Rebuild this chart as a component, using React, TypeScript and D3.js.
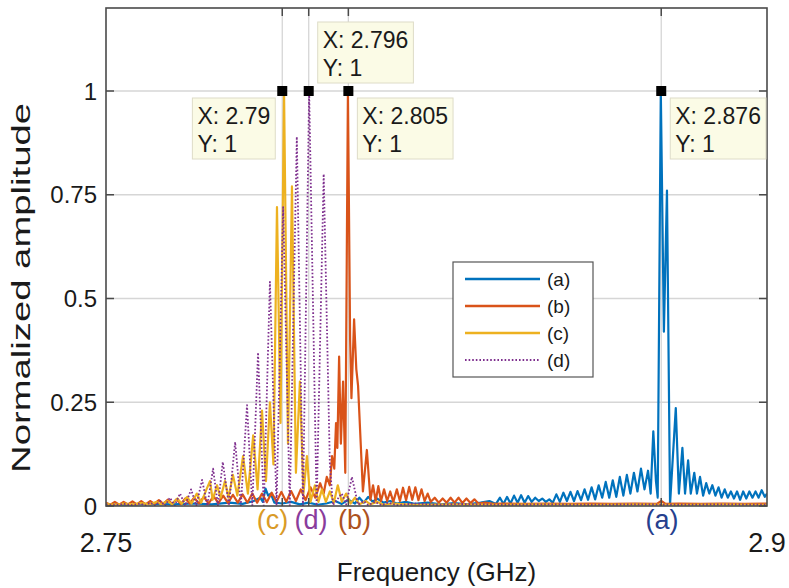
import React, { useEffect, useRef } from "react";
import * as d3 from "d3";

// frequency (GHz) / normalized amplitude pairs
const seriesA: [number, number][] = [
  [2.75, 0.004], [2.755, 0.003], [2.76, 0.005], [2.765, 0.004], [2.77, 0.006], [2.774, 0.004],
  [2.778, 0.008], [2.781, 0.005], [2.7835, 0.012], [2.785, 0.02], [2.7856, 0.01], [2.7862, 0.042],
  [2.7868, 0.025], [2.7874, 0.03], [2.7882, 0.008], [2.79, 0.006], [2.792, 0.01], [2.794, 0.004],
  [2.796, 0.008], [2.798, 0.003], [2.8, 0.006], [2.802, 0.012], [2.8035, 0.005], [2.805, 0.015],
  [2.8065, 0.006], [2.8075, 0.02], [2.8085, 0.008], [2.8095, 0.022], [2.8105, 0.01], [2.8115, 0.018],
  [2.813, 0.008], [2.8145, 0.012], [2.816, 0.006], [2.818, 0.01], [2.82, 0.005], [2.823, 0.008],
  [2.826, 0.004], [2.829, 0.007], [2.832, 0.004], [2.835, 0.008], [2.837, 0.012], [2.8385, 0.005],
  [2.8394, 0.02], [2.8402, 0.005], [2.841, 0.022], [2.8418, 0.006], [2.8426, 0.025], [2.8434, 0.008],
  [2.8442, 0.026], [2.845, 0.008], [2.8458, 0.024], [2.8466, 0.01], [2.8474, 0.02], [2.8482, 0.012],
  [2.849, 0.018], [2.8498, 0.01], [2.8506, 0.016], [2.8514, 0.008], [2.8522, 0.028], [2.853, 0.01],
  [2.8538, 0.032], [2.8546, 0.012], [2.8554, 0.034], [2.8562, 0.012], [2.857, 0.036], [2.8578, 0.014],
  [2.8586, 0.04], [2.8594, 0.015], [2.8602, 0.045], [2.861, 0.016], [2.8618, 0.05], [2.8626, 0.02],
  [2.8634, 0.058], [2.8642, 0.02], [2.865, 0.062], [2.8658, 0.022], [2.8666, 0.07], [2.8674, 0.025],
  [2.8682, 0.075], [2.869, 0.03], [2.8698, 0.08], [2.8706, 0.035], [2.8714, 0.09], [2.8722, 0.04],
  [2.873, 0.085], [2.8736, 0.03], [2.8742, 0.18], [2.8748, 0.06], [2.8752, 0.02], [2.8759, 1.0],
  [2.8766, 0.42], [2.8773, 0.76], [2.878, 0.005], [2.8793, 0.236], [2.88, 0.03], [2.8808, 0.14],
  [2.8814, 0.03], [2.8821, 0.11], [2.8827, 0.03], [2.8835, 0.08], [2.8841, 0.03], [2.8848, 0.07],
  [2.8855, 0.025], [2.8862, 0.055], [2.8869, 0.03], [2.8876, 0.05], [2.8883, 0.025], [2.889, 0.045],
  [2.8897, 0.02], [2.8904, 0.04], [2.8911, 0.02], [2.8918, 0.035], [2.8925, 0.018], [2.8932, 0.035],
  [2.8939, 0.015], [2.8946, 0.035], [2.8953, 0.018], [2.896, 0.035], [2.8967, 0.02], [2.8974, 0.035],
  [2.8981, 0.02], [2.8988, 0.038], [2.8995, 0.022], [2.9, 0.03],
];

const seriesB: [number, number][] = [
  [2.75, 0.008], [2.751, 0.003], [2.752, 0.01], [2.753, 0.003], [2.754, 0.01], [2.755, 0.004],
  [2.756, 0.011], [2.757, 0.004], [2.758, 0.012], [2.759, 0.004], [2.76, 0.012], [2.761, 0.005],
  [2.762, 0.014], [2.763, 0.005], [2.764, 0.015], [2.765, 0.005], [2.766, 0.016], [2.767, 0.005],
  [2.768, 0.018], [2.769, 0.006], [2.77, 0.02], [2.7711, 0.006], [2.7722, 0.022], [2.7733, 0.006],
  [2.7744, 0.024], [2.7755, 0.007], [2.7766, 0.025], [2.7777, 0.007], [2.7788, 0.027], [2.7799, 0.008],
  [2.781, 0.028], [2.7821, 0.008], [2.7832, 0.03], [2.7843, 0.008], [2.7854, 0.03], [2.7865, 0.009],
  [2.7876, 0.032], [2.7887, 0.01], [2.7898, 0.034], [2.7909, 0.01], [2.792, 0.036], [2.7931, 0.012],
  [2.7942, 0.04], [2.7953, 0.014], [2.7964, 0.045], [2.7975, 0.02], [2.7986, 0.055], [2.7994, 0.03],
  [2.8001, 0.07], [2.8008, 0.05], [2.8013, 0.12], [2.8018, 0.09], [2.8022, 0.2], [2.8025, 0.14],
  [2.8029, 0.36], [2.8033, 0.15], [2.8038, 0.3], [2.8043, 0.08], [2.8049, 1.0], [2.8054, 0.4],
  [2.8057, 0.26], [2.8063, 0.45], [2.8068, 0.33], [2.8072, 0.29], [2.8083, 0.035], [2.8092, 0.135],
  [2.81, 0.015], [2.8106, 0.05], [2.8112, 0.012], [2.8118, 0.048], [2.8124, 0.012], [2.8131, 0.04],
  [2.8138, 0.012], [2.8145, 0.035], [2.8152, 0.01], [2.816, 0.04], [2.8167, 0.012], [2.8174, 0.044],
  [2.8181, 0.014], [2.8188, 0.046], [2.8195, 0.015], [2.8202, 0.045], [2.8209, 0.014], [2.8216, 0.04],
  [2.8223, 0.012], [2.823, 0.03], [2.8237, 0.01], [2.8246, 0.02], [2.8255, 0.008], [2.8264, 0.018],
  [2.8273, 0.008], [2.8282, 0.02], [2.8291, 0.008], [2.83, 0.02], [2.8309, 0.007], [2.8318, 0.018],
  [2.8327, 0.007], [2.8336, 0.016], [2.8345, 0.006], [2.836, 0.008], [2.838, 0.005], [2.84, 0.006],
  [2.845, 0.005], [2.85, 0.006], [2.855, 0.005], [2.86, 0.006], [2.865, 0.005], [2.87, 0.006],
  [2.875, 0.005], [2.876, 0.012], [2.877, 0.005], [2.88, 0.006], [2.885, 0.005], [2.89, 0.006],
  [2.895, 0.005], [2.9, 0.006],
];

const seriesC: [number, number][] = [
  [2.75, 0.005], [2.752, 0.003], [2.754, 0.006], [2.756, 0.004], [2.758, 0.007], [2.76, 0.004],
  [2.7615, 0.01], [2.7625, 0.004], [2.764, 0.012], [2.765, 0.004], [2.7662, 0.018], [2.7672, 0.005],
  [2.7684, 0.022], [2.7694, 0.006], [2.7706, 0.03], [2.7716, 0.008], [2.7728, 0.04], [2.7736, 0.06],
  [2.7742, 0.015], [2.7752, 0.05], [2.776, 0.02], [2.777, 0.06], [2.7778, 0.02], [2.7788, 0.075],
  [2.7798, 0.025], [2.7811, 0.12], [2.7822, 0.03], [2.7834, 0.17], [2.7844, 0.04], [2.7854, 0.23],
  [2.7863, 0.06], [2.7872, 0.25], [2.788, 0.1], [2.7888, 0.72], [2.7896, 0.2], [2.7904, 1.0],
  [2.7913, 0.15], [2.7922, 0.77], [2.7931, 0.08], [2.794, 0.3], [2.7948, 0.03], [2.7956, 0.12],
  [2.7964, 0.01], [2.7974, 0.05], [2.7982, 0.01], [2.799, 0.04], [2.7999, 0.01], [2.8008, 0.035],
  [2.8017, 0.008], [2.8026, 0.05], [2.8035, 0.01], [2.8045, 0.03], [2.8055, 0.006], [2.8065, 0.02],
  [2.8075, 0.004], [2.809, 0.012], [2.81, 0.004], [2.8115, 0.01], [2.813, 0.003], [2.815, 0.006],
  [2.82, 0.003], [2.83, 0.004], [2.84, 0.003], [2.85, 0.004], [2.86, 0.003], [2.87, 0.004],
  [2.88, 0.003], [2.89, 0.004], [2.9, 0.003],
];

const seriesD: [number, number][] = [
  [2.75, 0.004], [2.752, 0.002], [2.754, 0.005], [2.756, 0.002], [2.7578, 0.006], [2.7589, 0.001],
  [2.76, 0.008], [2.7612, 0.001], [2.7623, 0.012], [2.7634, 0.001], [2.7645, 0.02], [2.7656, 0.001],
  [2.7668, 0.03], [2.768, 0.001], [2.7693, 0.04], [2.7705, 0.001], [2.7718, 0.063], [2.773, 0.001],
  [2.7743, 0.09], [2.7754, 0.001], [2.7765, 0.106], [2.7779, 0.001], [2.7793, 0.154], [2.7806, 0.001],
  [2.782, 0.243], [2.7832, 0.001], [2.7845, 0.37], [2.7858, 0.001], [2.7872, 0.54], [2.7887, 0.001],
  [2.7902, 0.72], [2.7917, 0.001], [2.7933, 0.89], [2.7947, 0.001], [2.7961, 1.0], [2.7978, 0.001],
  [2.7994, 0.8], [2.8008, 0.1], [2.8015, 0.002], [2.8035, 0.03], [2.8045, 0.004], [2.8058, 0.07],
  [2.8072, 0.003], [2.8085, 0.012], [2.8095, 0.002], [2.811, 0.01], [2.8125, 0.002], [2.814, 0.008],
  [2.816, 0.002], [2.82, 0.006], [2.825, 0.003], [2.83, 0.005], [2.84, 0.003], [2.85, 0.004],
  [2.86, 0.003], [2.87, 0.004], [2.88, 0.003], [2.89, 0.004], [2.9, 0.003],
];

const seriesNames = ["(a)", "(b)", "(c)", "(d)"];
const seriesColors = ["#0072BD", "#D95319", "#EDB120", "#7E2F8E"];

const freqTicks = [2.75, 2.9];
const peakTicks = [2.79, 2.796, 2.805, 2.876];
const ampTicks = [0, 0.25, 0.5, 0.75, 1];

// data tips: x, y and which side the box sits
const tips = [
  { x: 2.79, y: 1, side: "left" },
  { x: 2.796, y: 1, side: "up" },
  { x: 2.805, y: 1, side: "right" },
  { x: 2.876, y: 1, side: "right" },
];

// coloured labels under the axis
const peakLabels = [
  { text: "(c)", x: 2.7878, color: "#D99B27" },
  { text: "(d)", x: 2.7965, color: "#8A3C9C" },
  { text: "(b)", x: 2.8064, color: "#AD521E" },
  { text: "(a)", x: 2.8762, color: "#26408E" },
];

const W = 789;
const H = 588;
const FONT = "'Liberation Sans', Arial, sans-serif";

const App = () => {
  const ref = useRef<SVGSVGElement>(null);

  useEffect(() => {
    const margin = { top: 8, right: 22, bottom: 82, left: 106 };
    const svg = d3.select(ref.current);
    svg.selectAll("*").remove();

    const xScale = d3.scaleLinear().domain([2.75, 2.9]).range([margin.left, W - margin.right]);
    const yScale = d3.scaleLinear().domain([0, 1.2]).range([H - margin.bottom, margin.top]);
    const [x0, x1] = xScale.range();
    const [y0, y1] = yScale.range();

    svg.append("rect").attr("width", W).attr("height", H).attr("fill", "#fff");

    // grid
    svg
      .append("g")
      .selectAll("line")
      .data(ampTicks.filter((d) => d > 0))
      .enter()
      .append("line")
      .attr("x1", x0)
      .attr("x2", x1)
      .attr("y1", (d) => yScale(d))
      .attr("y2", (d) => yScale(d))
      .attr("stroke", "#d6d6d6")
      .attr("stroke-width", 1.3);
    svg
      .append("g")
      .selectAll("line")
      .data(peakTicks)
      .enter()
      .append("line")
      .attr("x1", (d) => xScale(d))
      .attr("x2", (d) => xScale(d))
      .attr("y1", y1)
      .attr("y2", y0)
      .attr("stroke", "#d6d6d6")
      .attr("stroke-width", 1.3);

    // clip for the curves
    svg
      .append("clipPath")
      .attr("id", "plotclip")
      .append("rect")
      .attr("x", x0)
      .attr("y", y1)
      .attr("width", x1 - x0)
      .attr("height", y0 - y1);

    const line = d3
      .line<[number, number]>()
      .x((d) => xScale(d[0]))
      .y((d) => yScale(d[1]));

    const all = [seriesA, seriesB, seriesC, seriesD];
    const curves = svg.append("g").attr("clip-path", "url(#plotclip)");
    all.forEach((s, i) => {
      curves
        .append("path")
        .datum(s)
        .attr("d", line)
        .attr("fill", "none")
        .attr("stroke", seriesColors[i])
        .attr("stroke-width", i === 3 ? 1.8 : 2.2)
        .attr("stroke-linejoin", "round")
        .attr("stroke-dasharray", i === 3 ? "1.6 2" : null);
    });

    // box + ticks
    svg
      .append("rect")
      .attr("x", x0)
      .attr("y", y1)
      .attr("width", x1 - x0)
      .attr("height", y0 - y1)
      .attr("fill", "none")
      .attr("stroke", "#4a4a4a")
      .attr("stroke-width", 1.6);

    const tickLen = 8;
    ampTicks.forEach((t) => {
      svg.append("line").attr("x1", x0).attr("x2", x0 + tickLen).attr("y1", yScale(t)).attr("y2", yScale(t)).attr("stroke", "#4a4a4a").attr("stroke-width", 1.5);
      svg.append("line").attr("x1", x1).attr("x2", x1 - tickLen).attr("y1", yScale(t)).attr("y2", yScale(t)).attr("stroke", "#4a4a4a").attr("stroke-width", 1.5);
    });
    peakTicks.forEach((t) => {
      svg.append("line").attr("x1", xScale(t)).attr("x2", xScale(t)).attr("y1", y1).attr("y2", y1 + tickLen).attr("stroke", "#4a4a4a").attr("stroke-width", 1.5);
      svg.append("line").attr("x1", xScale(t)).attr("x2", xScale(t)).attr("y1", y0).attr("y2", y0 - tickLen).attr("stroke", "#4a4a4a").attr("stroke-width", 1.5);
    });

    // y tick labels
    svg
      .append("g")
      .selectAll("text")
      .data(ampTicks)
      .enter()
      .append("text")
      .attr("x", x0 - 9)
      .attr("y", (d) => yScale(d))
      .attr("dy", "0.36em")
      .attr("text-anchor", "end")
      .attr("font-family", FONT)
      .attr("font-size", 24)
      .attr("fill", "#1a1a1a")
      .text((d) => d3.format("~g")(d));

    // x tick labels
    svg
      .append("g")
      .selectAll("text")
      .data(freqTicks)
      .enter()
      .append("text")
      .attr("x", (d) => xScale(d))
      .attr("y", y0 + 46)
      .attr("text-anchor", "middle")
      .attr("font-family", FONT)
      .attr("font-size", 27)
      .attr("fill", "#1a1a1a")
      .text((d) => d3.format("~g")(d));

    // coloured peak labels
    svg
      .append("g")
      .selectAll("text")
      .data(peakLabels)
      .enter()
      .append("text")
      .attr("x", (d) => xScale(d.x))
      .attr("y", y0 + 23)
      .attr("text-anchor", "middle")
      .attr("font-family", FONT)
      .attr("font-size", 27)
      .attr("fill", (d) => d.color)
      .text((d) => d.text);

    // axis titles
    svg
      .append("text")
      .attr("x", (x0 + x1) / 2)
      .attr("y", H - 7)
      .attr("text-anchor", "middle")
      .attr("font-family", FONT)
      .attr("font-size", 26)
      .attr("fill", "#1a1a1a")
      .text("Frequency (GHz)");
    svg
      .append("text")
      .attr("transform", `translate(30,${(y0 + y1) / 2 + 31}) rotate(-90)`)
      .attr("text-anchor", "middle")
      .attr("font-family", FONT)
      .attr("font-size", 25)
      .attr("textLength", 370)
      .attr("lengthAdjust", "spacingAndGlyphs")
      .attr("fill", "#1a1a1a")
      .text("Normalized amplitude");

    // legend
    const lg = { x: 453, y: 262, w: 140, h: 115 };
    svg.append("rect").attr("x", lg.x).attr("y", lg.y).attr("width", lg.w).attr("height", lg.h).attr("fill", "#fff").attr("stroke", "#555").attr("stroke-width", 1.2);
    seriesNames.forEach((name, i) => {
      const yy = lg.y + 17 + i * 27;
      svg.append("line").attr("x1", lg.x + 12).attr("x2", lg.x + 87).attr("y1", yy).attr("y2", yy)
        .attr("stroke", seriesColors[i]).attr("stroke-width", i === 3 ? 2 : 2.6)
        .attr("stroke-dasharray", i === 3 ? "1.6 2" : null);
      svg.append("text").attr("x", lg.x + 94).attr("y", yy).attr("dy", "0.35em")
        .attr("font-family", FONT).attr("font-size", 19).attr("fill", "#1a1a1a").text(name);
    });

    // data tips
    tips.forEach((t) => {
      const mx = xScale(t.x);
      const my = yScale(t.y);
      const g = svg.append("g");
      const rect = g.append("rect").attr("fill", "#fbfbe6").attr("stroke", "#dedcc8").attr("stroke-width", 1);
      const tx = g.append("text").attr("font-family", FONT).attr("font-size", 23).attr("fill", "#1a1a1a");
      tx.append("tspan").attr("x", 0).attr("y", 26).text(`X: ${t.x}`);
      tx.append("tspan").attr("x", 0).attr("y", 54).text(`Y: ${t.y}`);
      const bw = (tx.node() as SVGTextElement).getBBox().width + 10;
      const bh = 61;
      let bx = mx + 9;
      let by = my + 7;
      if (t.side === "left") bx = mx - 7 - bw;
      if (t.side === "up") by = my - 8 - bh;
      rect.attr("x", bx).attr("y", by).attr("width", bw).attr("height", bh);
      tx.attr("transform", `translate(${bx + 5},${by})`);
      svg.append("rect").attr("x", mx - 5).attr("y", my - 5).attr("width", 10).attr("height", 10).attr("fill", "#000");
    });
  }, []);

  return (
    <svg
      ref={ref}
      width={W}
      height={H}
      style={{ position: "absolute", left: 0, top: 0, display: "block" }}
    />
  );
};

export default App;
